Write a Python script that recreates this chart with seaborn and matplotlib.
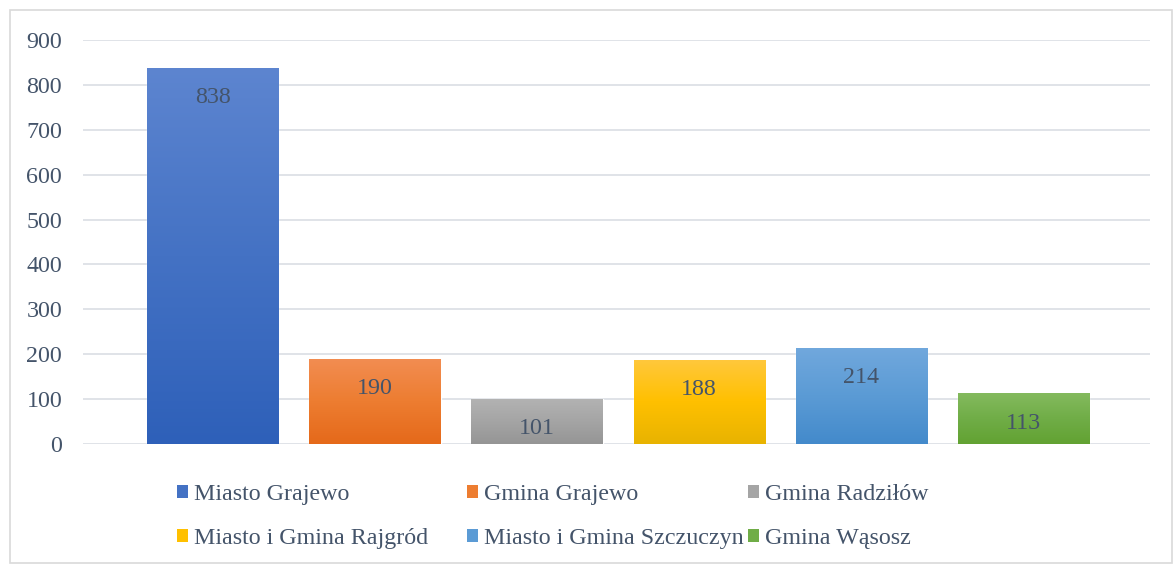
import matplotlib
matplotlib.use("Agg")
import matplotlib.pyplot as plt
from matplotlib.colors import LinearSegmentedColormap
from matplotlib.patches import Rectangle, Patch
import seaborn as sns
import numpy as np
import pandas as pd

# data
names = ["Miasto Grajewo", "Gmina Grajewo", "Gmina Radziłów",
         "Miasto i Gmina Rajgród", "Miasto i Gmina Szczuczyn", "Gmina Wąsosz"]
values = [838, 190, 101, 188, 214, 113]
base_colors = ["#4472C4", "#ED7D31", "#A5A5A5", "#FFC000", "#5B9BD5", "#70AD47"]
top_colors = ["#5D85D0", "#F28D52", "#B3B3B3", "#FFC83D", "#71A8DD", "#84BA5E"]
bottom_colors = ["#2E60B9", "#E5691A", "#959595", "#E8B300", "#438ACB", "#62A232"]
yticks = [0, 100, 200, 300, 400, 500, 600, 700, 800, 900]

text_color = "#44546A"
grid_color = "#DDE1E6"
fs = 17.3

df = pd.DataFrame({"name": names, "value": values})

sns.set_style("white")
plt.rcParams["font.family"] = ["Liberation Serif", "DejaVu Serif"]

W, H = 1173, 565
fig = plt.figure(figsize=(W / 100, H / 100), dpi=100)
ax = fig.add_axes([83 / W, (H - 444) / H, (1150 - 83) / W, 404 / H])

sns.barplot(data=df, x="name", y="value", hue="name", palette=base_colors,
            width=0.81, legend=False, ax=ax, saturation=1)

ax.set_ylim(0, 900)
ax.set_yticks(yticks)
ax.set_yticklabels([str(t) for t in yticks])
ax.tick_params(axis="y", labelsize=fs, colors=text_color, length=0, pad=15)
ax.set_xticks([])
ax.set_xlabel("")
ax.set_ylabel("")
for s in ax.spines.values():
    s.set_visible(False)
ax.yaxis.grid(True, color=grid_color, linewidth=1.3)
ax.set_axisbelow(True)

# gradient fill clipped to each bar
for i, p in enumerate(ax.patches):
    x0, w, h = p.get_x(), p.get_width(), p.get_height()
    cmap = LinearSegmentedColormap.from_list(
        "g%d" % i, [bottom_colors[i], base_colors[i], top_colors[i]])
    grad = np.linspace(0, 1, 256).reshape(-1, 1)
    im = ax.imshow(grad, cmap=cmap, aspect="auto", origin="lower",
                   extent=[x0, x0 + w, 0, h], zorder=p.get_zorder() + 0.1)
    im.set_clip_path(p)
    ax.annotate(str(values[i]), (x0 + w / 2, h), xytext=(0, -30),
                textcoords="offset pixels", ha="center", va="center",
                fontsize=fs, color=text_color, zorder=5)
ax.set_xlim(-0.8, 5.78)
ax.set_ylim(0, 900)

# legend in three columns
col_x = [177, 467, 748]
for c in range(3):
    handles = [Patch(facecolor=base_colors[c], edgecolor="none"),
               Patch(facecolor=base_colors[c + 3], edgecolor="none")]
    fig.legend(handles, [names[c], names[c + 3]], loc="upper left",
               bbox_to_anchor=(col_x[c] / W, 1 - 484 / H), frameon=False,
               fontsize=fs, labelcolor=text_color, handlelength=0.45,
               handleheight=0.45, handletextpad=0.25, labelspacing=0.95,
               borderaxespad=0, borderpad=0)

# outer chart border
fig.patches.append(Rectangle((10 / W, 2 / H), (W - 11) / W, (H - 12) / H,
                             transform=fig.transFigure, fill=False,
                             edgecolor="#D9D9D9", linewidth=1.2))

fig.savefig("out.png", dpi=100)
